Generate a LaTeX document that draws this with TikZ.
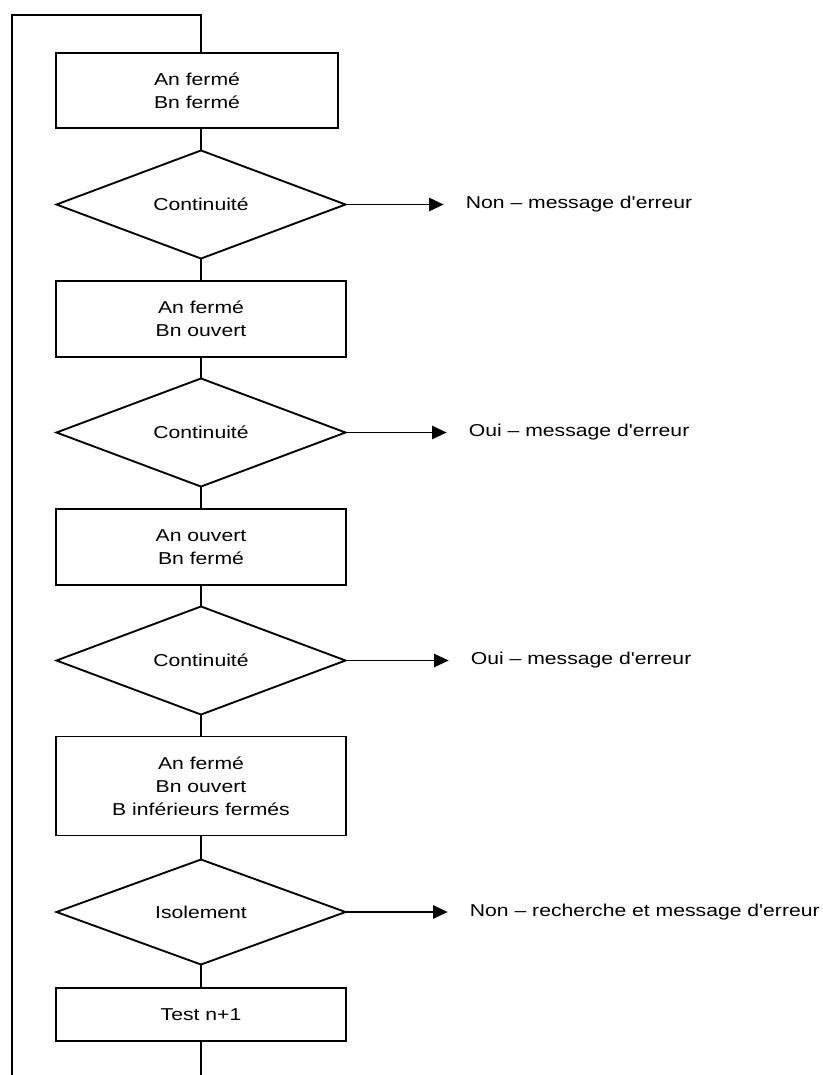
\documentclass[tikz,border=0pt]{standalone}
\usepackage{fontspec}
\setmainfont{Liberation Sans}[FakeStretch=1.23,Ligatures=TeXOff]
\usetikzlibrary{arrows.meta,shapes.geometric}

\begin{document}
\begin{tikzpicture}[x=0.75pt,y=-0.75pt,line width=1.4pt,
  etape/.style={draw,rectangle,minimum width=217.5pt,minimum height=57pt,
    inner sep=0pt,outer sep=0pt,align=center,font=\fontsize{12.9}{17.25}\selectfont},
  test/.style={draw,diamond,minimum width=216.75pt,minimum height=78.75pt,
    inner sep=0pt,outer sep=0pt,font=\fontsize{12.9}{17.25}\selectfont},
  msg/.style={anchor=west,inner sep=0pt,font=\fontsize{12.9}{17.25}\selectfont},
  sortie/.style={-{Triangle[length=11pt,width=10pt]},shorten >=16pt}]
\useasboundingbox (0,0) rectangle (822,1075);
\node[etape,minimum width=211.5pt,minimum height=56.25pt] (e1) at (197,90.5) {An fermé\\Bn fermé};
\node[test] (t1) at (201,204.5) {Continuité};
\node[etape] (e2) at (201,319) {An fermé\\Bn ouvert};
\node[test] (t2) at (201,432.5) {Continuité};
\node[etape] (e3) at (201,547) {An ouvert\\Bn fermé};
\node[test] (t3) at (201,660.5) {Continuité};
\node[etape,minimum height=74.25pt] (e4) at (201,786) {An fermé\\Bn ouvert\\B inférieurs fermés};
\node[test] (t4) at (201,912) {Isolement};
\node[etape,minimum height=39.75pt] (e5) at (201,1014.5) {Test n+1};
\node[msg] (m1) at (465,204.5) {Non – message d'erreur};
\node[msg] (m2) at (468,432.5) {Oui – message d'erreur};
\node[msg] (m3) at (470,660.5) {Oui – message d'erreur};
\node[msg] (m4) at (469,912) {Non – recherche et message d'erreur};
\coordinate (haut) at (12,15);
\coordinate (bas) at (12,1075);
\coordinate (fin) at (201,1075);
\draw (t1.north) -- (t1.north |- e1.south);
\draw (t1) -- (e2);
\draw (e2) -- (t2);
\draw (t2) -- (e3);
\draw (e3) -- (t3);
\draw (t3) -- (e4);
\draw (e4) -- (t4);
\draw (t4) -- (e5);
\draw (e5) -- (fin);
\draw (bas) -- (haut) -| (t1.north |- e1.north);
\draw[sortie] (t1.east) -- (m1.west);
\draw[sortie] (t2.east) -- (m2.west);
\draw[sortie] (t3.east) -- (m3.west);
\draw[sortie] (t4.east) -- (m4.west);
\end{tikzpicture}
\end{document}
